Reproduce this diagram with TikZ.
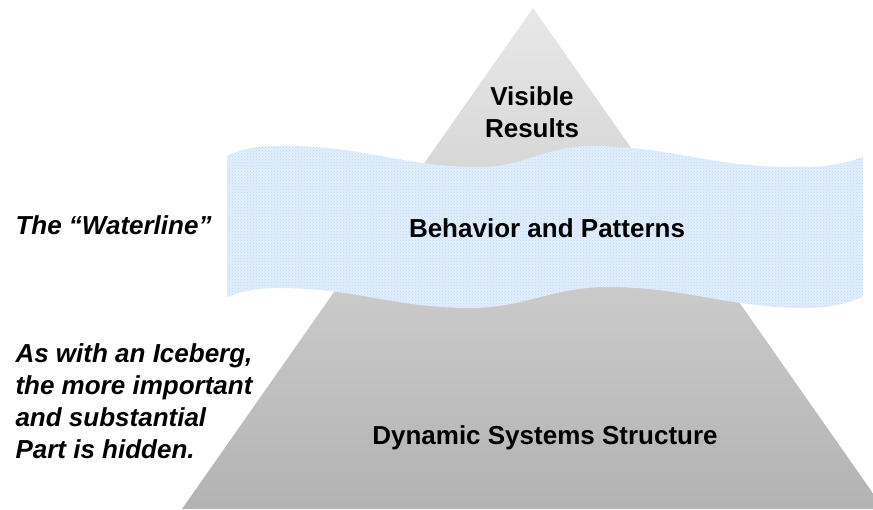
\documentclass[tikz,border=0pt]{standalone}
\usepackage{fontspec}
\setmainfont{Liberation Sans}
\usetikzlibrary{patterns}
\begin{document}
\begin{tikzpicture}[x=1pt,y=1pt]
            \tikzstyle{gros}=[font=\bfseries\fontsize{26}{32}\selectfont,align=center]
            \tikzset{remarque/.style = {font=\bfseries\itshape\fontsize{26}{32}\selectfont,align=left,anchor=west}}
            \tikzset{eau/.style = {fill={rgb,255:red,226;green,238;blue,252},pattern color={rgb,255:red,188;green,216;blue,250}}}
            \useasboundingbox (0,0) rectangle (873,509);
            \clip (0,0) rectangle (873,509);
            % iceberg
            \shade[top color=gray!18,bottom color=gray!60] (533,501) -- (182,0) -- (884,0) -- cycle;
            % waterline
            \fill[eau] (227,353) to[out=25,in=180] (287,363) to[out=0,in=180] (480,342)
                to[out=0,in=180] (590,363) to[out=0,in=180] (790,342) to[out=0,in=200] (863,352)
                -- (863,212) to[out=200,in=0] (807,201) to[out=180,in=0] (607,222)
                to[out=180,in=0] (470,201) to[out=180,in=0] (280,221) to[out=180,in=20] (227,212) -- cycle;
            \path[eau,pattern=crosshatch dots] (227,353) to[out=25,in=180] (287,363) to[out=0,in=180] (480,342)
                to[out=0,in=180] (590,363) to[out=0,in=180] (790,342) to[out=0,in=200] (863,352)
                -- (863,212) to[out=200,in=0] (807,201) to[out=180,in=0] (607,222)
                to[out=180,in=0] (470,201) to[out=180,in=0] (280,221) to[out=180,in=20] (227,212) -- cycle;
            \node[gros] (visible) at (532,397) {Visible\\Results};
            \node[gros] (comportement) at (547,281) {Behavior and Patterns};
            \node[gros] (structure) at (545,71) {Dynamic Systems Structure};
            \node[remarque] (ligne) at (12,284) {The “Waterline”};
            \node[remarque] (iceberg) at (12,108) {As with an Iceberg,\\the more important\\and substantial\\Part is hidden.};
\end{tikzpicture}
\end{document}
